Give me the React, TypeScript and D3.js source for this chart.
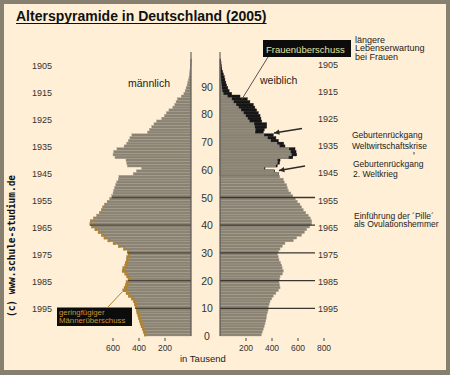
import React, { useEffect, useRef } from 'react';
import * as d3 from 'd3';

// Bevölkerung Deutschland 2005, Tausend, Alter 0..99
const male = [
  360, 367, 375, 385, 392, 398, 405, 410, 417, 422,
  430, 436, 443, 460, 482, 500, 525, 515, 505, 500,
  485, 495, 510, 530, 525, 510, 505, 498, 495, 485,
  490, 520, 560, 600, 640, 670, 690, 715, 740, 765,
  778, 775, 750, 725, 705, 690, 680, 665, 645, 625,
  610, 600, 595, 588, 580, 572, 560, 555, 445, 420,
  380, 490, 495, 500, 585, 600, 595, 570, 515, 495,
  482, 470, 455, 335, 320, 302, 285, 265, 225, 205,
  190, 170, 140, 125, 115, 105, 75, 55, 45, 38,
  30, 25, 20, 15, 12, 9, 7, 5, 4, 3,
];

const female = [
  318, 325, 333, 340, 346, 352, 356, 359, 365, 370,
  372, 378, 385, 398, 410, 430, 449, 462, 458, 454,
  458, 462, 480, 487, 478, 474, 465, 454, 448, 443,
  450, 462, 480, 500, 564, 590, 628, 650, 667, 690,
  705, 705, 695, 679, 660, 641, 628, 615, 595, 580,
  560, 545, 526, 518, 513, 495, 487, 460, 449, 420,
  346, 440, 458, 462, 560, 590, 585, 577, 500, 490,
  449, 430, 410, 333, 340, 359, 359, 321, 315, 308,
  295, 282, 268, 256, 230, 210, 154, 90, 70, 60,
  51, 45, 38, 33, 26, 20, 14, 11, 8, 6,
];

// Frauenüberschuss (schwarz) ab Alter 58
const femaleSurplusStart = 58;
const femaleSurplus = [
  4, 6, 8, 12, 18, 22, 34, 42, 44, 47,
  44, 52, 60, 66, 72, 64, 70, 92, 98, 96,
  104, 112, 116, 121, 126, 133, 127, 120, 98, 66,
  54, 47, 41, 37, 31, 27, 22, 17, 12, 9,
  7, 5,
];

// Männerüberschuss (orange) Alter 0..49
const maleSurplus = [
  18, 18, 19, 19, 20, 20, 20, 21, 21, 21,
  22, 22, 22, 23, 24, 25, 26, 26, 25, 25,
  24, 23, 22, 22, 21, 20, 20, 19, 18, 17,
  17, 17, 18, 18, 19, 19, 18, 18, 17, 16,
  15, 13, 11, 10, 9, 8, 7, 6, 5, 4,
];

const censusYear = 2005;
const ageTicks = [0, 10, 20, 30, 40, 50, 60, 70, 80, 90];
const yearTicks = [1905, 1915, 1925, 1935, 1945, 1955, 1965, 1975, 1985, 1995];
const markedYears = [1955, 1965, 1975, 1985, 1995];
const leftTicks = [600, 400, 200];
const rightTicks = [200, 400, 600, 800];

const FONT = "'Liberation Sans', Arial, sans-serif";
const BAR = '#8a8374';
const BAR_LINE = '#a8a090';

const Alterspyramide = () => {
  const svgRef = useRef(null);

  useEffect(() => {
    const svg = d3.select(svgRef.current);
    svg.selectAll('*').remove();

    const axisL = 191;
    const axisR = 220;

    const y = d3.scaleLinear().domain([0, 100]).range([336, 59]);
    const xL = d3.scaleLinear().domain([0, 800]).range([axisL, axisL - 104]);
    const xR = d3.scaleLinear().domain([0, 800]).range([axisR, axisR + 104]);
    const yearY = d3.scaleLinear().domain([1905, 1995]).range([66, 309]);

    // Rahmen
    svg.append('rect').attr('width', 450).attr('height', 375).attr('fill', '#878070');
    svg.append('rect').attr('x', 4).attr('y', 4).attr('width', 442).attr('height', 366)
      .attr('fill', '#ffefd6');

    // Titel
    const title = svg.append('text')
      .attr('x', 16).attr('y', 20.5)
      .attr('font-family', FONT).attr('font-size', 14).attr('font-weight', 'bold')
      .attr('fill', '#111')
      .text(`Alterspyramide in Deutschland (${censusYear})`);
    const tw = title.node().getComputedTextLength();
    svg.append('line').attr('x1', 16).attr('x2', 16 + tw).attr('y1', 23.5).attr('y2', 23.5)
      .attr('stroke', '#111').attr('stroke-width', 1.2);

    const ages = d3.range(male.length);
    const barH = y(0) - y(1);

    // männlich
    const gL = svg.append('g');
    gL.selectAll('rect.m')
      .data(ages)
      .enter()
      .append('rect')
      .attr('class', 'm')
      .attr('x', (a) => xL(male[a]))
      .attr('y', (a) => y(a + 1))
      .attr('width', (a) => Math.max(0.8, axisL - xL(male[a])))
      .attr('height', barH)
      .attr('fill', BAR)
      .attr('stroke', BAR_LINE)
      .attr('stroke-width', 0.4);

    gL.selectAll('rect.ms')
      .data(maleSurplus)
      .enter()
      .append('rect')
      .attr('x', (d, a) => xL(male[a]))
      .attr('y', (d, a) => y(a + 1))
      .attr('width', (d) => axisL - xL(d))
      .attr('height', barH + 0.3)
      .attr('fill', '#b3832c');

    // weiblich
    const gR = svg.append('g');
    gR.selectAll('rect.f')
      .data(ages)
      .enter()
      .append('rect')
      .attr('x', axisR)
      .attr('y', (a) => y(a + 1))
      .attr('width', (a) => Math.max(0.8, xR(female[a]) - axisR))
      .attr('height', barH)
      .attr('fill', (a) => (a >= femaleSurplusStart ? '#161616' : BAR))
      .attr('stroke', (a) => (a >= femaleSurplusStart ? '#161616' : BAR_LINE))
      .attr('stroke-width', 0.4);

    gR.selectAll('rect.fg')
      .data(femaleSurplus)
      .enter()
      .append('rect')
      .attr('x', axisR)
      .attr('y', (d, i) => y(femaleSurplusStart + i + 1))
      .attr('width', (d, i) => Math.max(0, xR(female[femaleSurplusStart + i] - d) - axisR))
      .attr('height', barH)
      .attr('fill', BAR)
      .attr('stroke', BAR_LINE)
      .attr('stroke-width', 0.4);

    // Jahrgangslinien
    markedYears.forEach((yr) => {
      const age = censusYear - yr;
      svg.append('line')
        .attr('x1', xL(male[age])).attr('x2', axisL)
        .attr('y1', y(age)).attr('y2', y(age))
        .attr('stroke', '#4d473b').attr('stroke-width', 1.3);
      svg.append('line')
        .attr('x1', axisR).attr('x2', 315)
        .attr('y1', y(age)).attr('y2', y(age))
        .attr('stroke', '#3a3630').attr('stroke-width', 1.3);
    });

    // Achsen
    [axisL, axisR].forEach((ax) => {
      svg.append('line').attr('x1', ax).attr('x2', ax).attr('y1', 52).attr('y2', y(0))
        .attr('stroke', '#4a4a4a').attr('stroke-width', 1);
    });

    svg.append('g').selectAll('text')
      .data(ageTicks)
      .enter()
      .append('text')
      .attr('x', 207).attr('y', (a) => y(a))
      .attr('dominant-baseline', 'central').attr('text-anchor', 'middle')
      .attr('font-family', FONT).attr('font-size', 10.5).attr('fill', '#333')
      .text((a) => a);

    // Jahrgänge
    svg.append('g').selectAll('text')
      .data(yearTicks)
      .enter()
      .append('text')
      .attr('x', 32).attr('y', (d) => yearY(d))
      .attr('dominant-baseline', 'central')
      .attr('font-family', FONT).attr('font-size', 9).attr('fill', '#333')
      .text((d) => d);

    svg.append('g').selectAll('text')
      .data(yearTicks)
      .enter()
      .append('text')
      .attr('x', 318).attr('y', (d) => yearY(d) + (markedYears.includes(d) ? 0 : -1))
      .attr('dominant-baseline', 'central')
      .attr('font-family', FONT).attr('font-size', 9).attr('fill', '#333')
      .text((d) => d);

    // x-Achsen
    const tickG = svg.append('g').attr('font-family', FONT).attr('font-size', 8.5).attr('fill', '#333');
    leftTicks.forEach((t) => {
      tickG.append('line').attr('x1', xL(t)).attr('x2', xL(t)).attr('y1', 338).attr('y2', 341)
        .attr('stroke', '#444');
      tickG.append('text').attr('x', xL(t)).attr('y', 348).attr('text-anchor', 'middle')
        .attr('dominant-baseline', 'central').text(t);
    });
    rightTicks.forEach((t) => {
      tickG.append('line').attr('x1', xR(t)).attr('x2', xR(t)).attr('y1', 338).attr('y2', 341)
        .attr('stroke', '#444');
      tickG.append('text').attr('x', xR(t)).attr('y', 348).attr('text-anchor', 'middle')
        .attr('dominant-baseline', 'central').text(t);
    });
    svg.append('text').attr('x', 180).attr('y', 358).attr('dominant-baseline', 'central')
      .attr('font-family', FONT).attr('font-size', 9.5).attr('fill', '#222').text('in Tausend');

    svg.append('text').attr('x', 128).attr('y', 83).attr('dominant-baseline', 'central')
      .attr('font-family', FONT).attr('font-size', 10.5).attr('fill', '#222').text('männlich');
    svg.append('text').attr('x', 260).attr('y', 80).attr('dominant-baseline', 'central')
      .attr('font-family', FONT).attr('font-size', 10.5).attr('fill', '#222').text('weiblich');

    // Frauenüberschuss
    svg.append('line').attr('x1', 268).attr('y1', 57).attr('x2', 242).attr('y2', 99)
      .attr('stroke', '#555').attr('stroke-width', 1);
    svg.append('rect').attr('x', 263).attr('y', 40).attr('width', 88).attr('height', 17)
      .attr('fill', '#0c0c0c');
    svg.append('text').attr('x', 266).attr('y', 49).attr('dominant-baseline', 'central')
      .attr('font-family', FONT).attr('font-size', 9.5).attr('fill', '#e4e2a6')
      .text('Frauenüberschuss');

    const note = (x, lines, y0, dy, size) => {
      lines.forEach((l, i) => {
        svg.append('text').attr('x', x).attr('y', y0 + i * dy).attr('dominant-baseline', 'central')
          .attr('font-family', FONT).attr('font-size', size).attr('fill', '#222').text(l);
      });
    };
    note(355, ['längere', 'Lebenserwartung', 'bei Frauen'], 39.5, 8.8, 9);
    note(352, ['Geburtenrückgang', 'Weltwirtschaftskrise'], 135, 10.5, 8.5);
    note(353, ['Geburtenrückgang', '2. Weltkrieg'], 164, 9.5, 8.5);
    note(354, ['Einführung der  ´Pille´', 'als Ovulationshemmer'], 215.5, 8.5, 8.5);
    svg.append('line').attr('x1', 414).attr('x2', 414).attr('y1', 152).attr('y2', 154.5)
      .attr('stroke', '#444');

    // Pfeile
    const arrow = (x1, y1, x2, y2) => {
      svg.append('line').attr('x1', x1).attr('y1', y1).attr('x2', x2).attr('y2', y2)
        .attr('stroke', '#2a2a2a').attr('stroke-width', 1.3);
      const ang = Math.atan2(y2 - y1, x2 - x1);
      const hl = 6;
      const p = [
        [x2, y2],
        [x2 - hl * Math.cos(ang - 0.45), y2 - hl * Math.sin(ang - 0.45)],
        [x2 - hl * Math.cos(ang + 0.45), y2 - hl * Math.sin(ang + 0.45)],
      ];
      svg.append('path').attr('d', d3.line()(p) + 'Z').attr('fill', '#2a2a2a');
    };
    arrow(302, 128.5, 274, 133);
    arrow(305, 166, 279, 170.5);

    // Männerüberschuss
    svg.append('line').attr('x1', 108).attr('y1', 307).attr('x2', 122).attr('y2', 292)
      .attr('stroke', '#b3832c').attr('stroke-width', 1);
    svg.append('rect').attr('x', 57).attr('y', 307.5).attr('width', 75).attr('height', 18.5)
      .attr('fill', '#0c0c0c');
    svg.append('text').attr('x', 59).attr('y', 312.3).attr('dominant-baseline', 'central')
      .attr('font-family', FONT).attr('font-size', 7.8).attr('fill', '#c8953a').text('geringfügiger');
    svg.append('text').attr('x', 59).attr('y', 320.7).attr('dominant-baseline', 'central')
      .attr('font-family', FONT).attr('font-size', 7.8).attr('fill', '#c8953a').text('Männerüberschuss');

    // Copyright
    svg.append('text')
      .attr('transform', 'translate(11,246) rotate(-90)')
      .attr('text-anchor', 'middle').attr('dominant-baseline', 'central')
      .attr('font-family', "'DejaVu Sans Mono', monospace").attr('font-weight', 'bold')
      .attr('font-size', 10).attr('fill', '#111')
      .attr('textLength', 142).attr('lengthAdjust', 'spacingAndGlyphs')
      .text('(c) www.schule-studium.de');
  }, []);

  return (
    <svg ref={svgRef} width={450} height={375} style={{ position: 'absolute', left: 0, top: 0 }}></svg>
  );
};

export default function App() {
  return <Alterspyramide />;
}
